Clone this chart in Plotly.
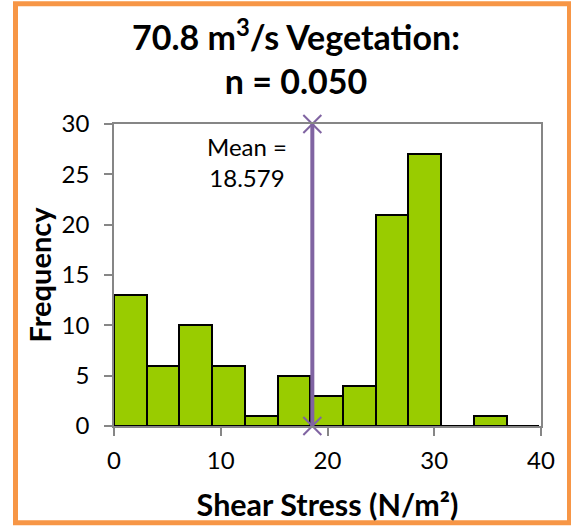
import plotly.graph_objects as go

# Data
bin_lower = [0.0, 3.065, 6.13, 9.195, 12.26, 15.325, 18.39, 21.455, 24.52, 27.585, 30.65, 33.715, 36.78]
bin_width = 3.065
frequency = [13, 6, 10, 6, 1, 5, 3, 4, 21, 27, 0, 1, 0]
mean_value = 18.579
mean_span = [0, 30]
x_ticks = [0, 10, 20, 30, 40]
y_ticks = [0, 5, 10, 15, 20, 25, 30]

W, H = 571, 529
L, T = 114, 124
R = W - 541
B = H - 428
pw, ph = W - L - R, H - T - B

def pxx(px):
    return (px - L) / pw

def pxy(py):
    return (H - B - py) / ph

FONT = "Lato"
centers = [b + bin_width / 2 for b in bin_lower]

fig = go.Figure()
fig.add_trace(go.Bar(
    x=centers, y=frequency, width=bin_width,
    marker=dict(color="#99CC00", line=dict(color="black", width=2)),
    cliponaxis=False, showlegend=False,
))
fig.add_trace(go.Scatter(
    x=[mean_value, mean_value], y=mean_span, mode="lines+markers",
    line=dict(color="#8064A2", width=4),
    marker=dict(symbol="x-thin", size=18, line=dict(color="#8064A2", width=2)),
    cliponaxis=False, showlegend=False,
))

fig.add_annotation(x=pxx(247), y=pxy(162), xref="paper", yref="paper",
                   text="Mean =<br>18.579", showarrow=False,
                   xanchor="center", yanchor="middle",
                   font=dict(family=FONT, size=24, color="black"))

fig.add_annotation(x=pxx(296), y=pxy(57), xref="paper", yref="paper",
                   text="<b>70.8 m<sup>3</sup>/s Vegetation:<br>n = 0.050</b>",
                   showarrow=False, xanchor="center", yanchor="middle",
                   font=dict(family=FONT, size=34, color="black"))

fig.add_shape(type="rect", xref="paper", yref="paper",
              x0=pxx(15.5), x1=pxx(569.5), y0=pxy(525.5), y1=pxy(3),
              line=dict(color="#F79646", width=5), layer="below")

axis_common = dict(showline=True, linecolor="#868686", linewidth=1.5, mirror=True,
                   ticks="outside", ticklen=8, tickcolor="#868686", tickwidth=1.5,
                   showgrid=False, zeroline=False,
                   tickfont=dict(family=FONT, size=24, color="black"))

fig.update_layout(
    width=W, height=H,
    margin=dict(l=L, r=R, t=T, b=B),
    paper_bgcolor="white", plot_bgcolor="white",
    bargap=0,
    xaxis=dict(range=[0, 40], tickvals=x_ticks, ticklabelstandoff=4,
               title=dict(text="<b>Shear Stress (N/m²)</b>", standoff=22,
                          font=dict(family=FONT, size=30.5, color="black")),
               **axis_common),
    yaxis=dict(range=[0, 30], tickvals=y_ticks, ticklabelstandoff=10,
               title=dict(text="<b>Frequency</b>", standoff=1,
                          font=dict(family=FONT, size=29, color="black")),
               **axis_common),
)

fig.write_html(
    "out.html",
    config={"displayModeBar": False},
    post_script="document.body.style.margin='0';document.body.style.overflow='hidden';",
)
